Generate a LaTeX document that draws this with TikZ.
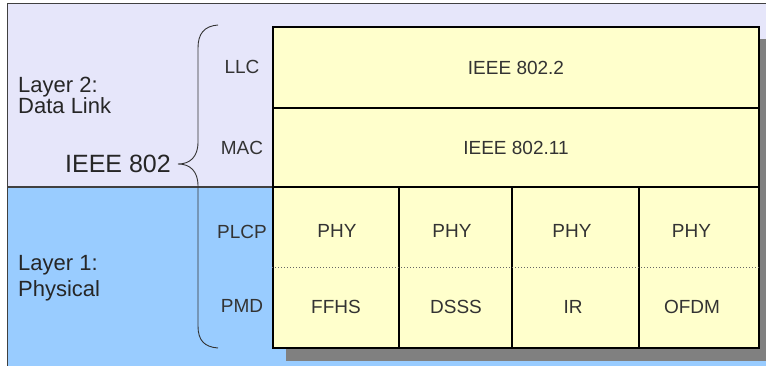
\documentclass[tikz,border=0pt]{standalone}
\usepackage{fontspec}
\setmainfont{Liberation Sans}
\usetikzlibrary{positioning}

\definecolor{linkbg}{HTML}{E6E6FA}
\definecolor{physbg}{HTML}{99CCFF}
\definecolor{cellfill}{HTML}{FFFFCC}
\definecolor{shadowgray}{HTML}{808080}
\definecolor{textgray}{HTML}{333333}

\tikzset{
    cell/.style = {draw=black, line width=1.3pt, fill=cellfill, inner sep=0pt},
    celltext/.style = {text=textgray, inner sep=0pt, font=\fontsize{19}{22}\selectfont},
    sublayer/.style = {text=textgray, inner sep=0pt, font=\fontsize{19}{22}\selectfont},
    layertext/.style = {text=black!85, inner sep=0pt, align=left, anchor=west}
}

\begin{document}
\begin{tikzpicture}[x=1pt, y=-1pt]
    % Page
    \useasboundingbox (0,0) rectangle (766,366);
    \clip (0,0) rectangle (766,366);

    % Layer backgrounds
    \fill[linkbg] (7,4) rectangle (772,187);
    \fill[physbg] (7,187) rectangle (772,370);
    \draw[black!75, line width=1pt] (772,4) -- (7,4) -- (7,370);
    \draw[black!75, line width=1.3pt] (7,187) -- (273,187);

    % Shadow of the table
    \fill[shadowgray] (286,39) rectangle (772,361);

    % Upper rows
    \node[cell, minimum width=486pt, minimum height=81pt] (llcbox) at (516,67.5) {};
    \node[cell, minimum width=486pt, minimum height=79pt] (macbox) at (516,147.5) {};
    \node[celltext] (llctext) at (llcbox.center) {IEEE 802.2};
    \node[celltext] (mactext) at (macbox.center) {IEEE 802.11};

    % PHY columns
    \node[cell, minimum width=126pt, minimum height=161pt] (colA) at (336,267.5) {};
    \node[cell, minimum width=113pt, minimum height=161pt] (colB) at (455.5,267.5) {};
    \node[cell, minimum width=127pt, minimum height=161pt] (colC) at (575.5,267.5) {};
    \node[cell, minimum width=120pt, minimum height=161pt] (colD) at (699,267.5) {};

    % Dotted split between PLCP and PMD
    \draw[black!60, dotted, line width=1pt] (colA.west |- 0,268) -- (colD.east |- 0,268);

    \node[celltext] (phyA) at (337,231) {PHY};
    \node[celltext] (phyB) at (452,231) {PHY};
    \node[celltext] (phyC) at (572,231) {PHY};
    \node[celltext] (phyD) at (691.5,231) {PHY};
    \node[celltext] (pmdA) at (336,307) {FFHS};
    \node[celltext] (pmdB) at (456,307) {DSSS};
    \node[celltext] (pmdC) at (573,307) {IR};
    \node[celltext] (pmdD) at (692,307) {OFDM};

    % Sublayer names
    \node[sublayer] (llc) at (242,67) {LLC};
    \node[sublayer] (mac) at (242,148) {MAC};
    \node[sublayer] (plcp) at (242,232) {PLCP};
    \node[sublayer] (pmd) at (242,306) {PMD};

    % Layer names
    \node[layertext, font=\fontsize{22}{21}\selectfont] (layertwo) at (18,95) {Layer 2:\\Data Link};
    \node[layertext, font=\fontsize{22}{26}\selectfont] (layerone) at (18,278) {Layer 1:\\Physical};

    % Brace
    \coordinate (bracetop) at (218,25);
    \coordinate (bracetip) at (178,164);
    \coordinate (bracebot) at (218,348);
    \draw[black!80, line width=0.9pt] (bracetop) .. controls (204,26) and (198,34) .. (198,48)
        -- (198,142) .. controls (198,157) and (190,164) .. (bracetip)
        .. controls (190,164) and (198,171) .. (198,186)
        -- (198,326) .. controls (198,340) and (204,347) .. (bracebot);
    \node[text=black!85, inner sep=0pt, anchor=east, font=\fontsize{25}{28}\selectfont] (ieee) at ([xshift=-7pt]bracetip) {IEEE 802};
\end{tikzpicture}
\end{document}
